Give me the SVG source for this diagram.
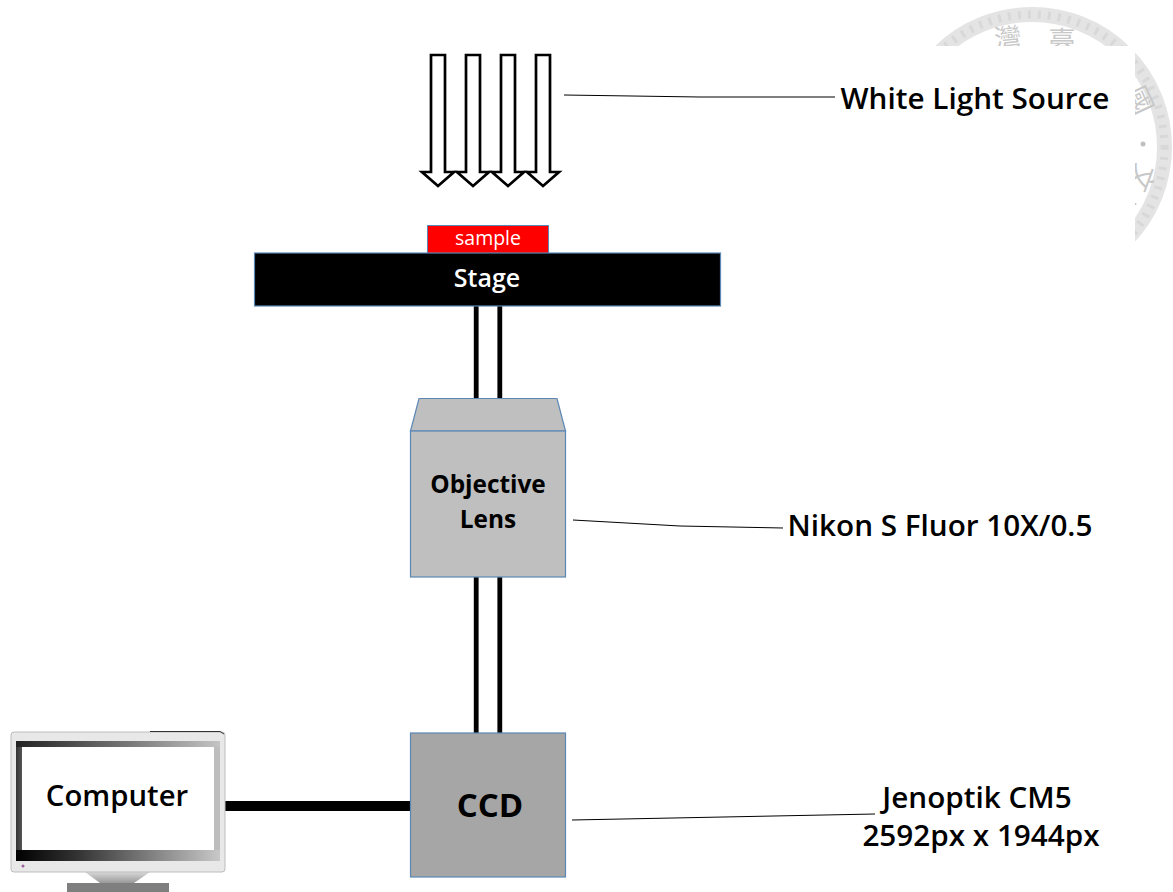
<svg xmlns="http://www.w3.org/2000/svg" width="1173" height="892" viewBox="0 0 1173 892">
<style>
text{font-family:"Open Sans","Noto Sans CJK TC","Noto Sans",sans-serif;fill:#000}
.lbl{font-size:29.700px;font-weight:600;text-anchor:middle}
.arrow{fill:#fff;stroke:#000;stroke-width:2.700}
.lead{fill:none;stroke:#000;stroke-width:1}
.box{stroke:#5b87b5;stroke-width:1.200}
.tube{stroke:#000;stroke-width:4.800;fill:none}
.seal{font-size:27px;fill:#c8c8c8;text-anchor:middle}
</style>
<defs>
<linearGradient id="bezTop" x1="0" x2="1" y1="0" y2="0"><stop offset="0" stop-color="#222"/><stop offset=".55" stop-color="#777"/><stop offset="1" stop-color="#c4c4c4"/></linearGradient>
<linearGradient id="bezBot" x1="0" x2="1" y1="0" y2="0"><stop offset="0" stop-color="#000"/><stop offset=".3" stop-color="#333"/><stop offset="1" stop-color="#c8c8c8"/></linearGradient>
<linearGradient id="bezSide" x1="0" x2="1" y1="0" y2="0"><stop offset="0" stop-color="#333"/><stop offset="1" stop-color="#555"/></linearGradient>
<linearGradient id="neck" x1="0" x2="0" y1="0" y2="1"><stop offset="0" stop-color="#d8d8d8"/><stop offset="1" stop-color="#999"/></linearGradient>
</defs>
<g id="watermark">
<circle cx="1032" cy="147" r="132.500" fill="none" stroke="#e4e4e4" stroke-width="15"/>
<circle cx="1032" cy="147" r="132.500" fill="none" stroke="#d8d8d8" stroke-width="8" stroke-dasharray="3 7"/>
<text class="seal" x="1008" y="48" transform="rotate(-6 1008 40)">灣</text>
<text class="seal" x="1062" y="51">臺</text>
<text class="seal" x="1140" y="110" transform="rotate(65 1140 100)">國</text>
<circle cx="1143" cy="144" r="2.500" fill="#c0c0c0"/>
<text class="seal" x="1142" y="188" transform="rotate(110 1142 178)">文</text>
<circle cx="1135.500" cy="204" r="1" fill="#c0c0c0"/>
<rect x="880" y="46" width="255" height="210" fill="#fff"/>
<rect x="880" y="243" width="293" height="60" fill="#fff"/>
</g>
<g id="connectors">
<path class="lead" d="M564 95L700 97L835 97"/>
<path class="lead" d="M573 520L680 526L783 528"/>
<path class="lead" d="M572 820L875 814"/>
<path class="tube" d="M476.200 306V398M499.800 306V398M476.200 577V733M499.800 577V733"/>
<path d="M223 806H411" stroke="#000" stroke-width="10" fill="none"/>
</g>
<g id="light-source">
<path class="arrow" d="M431 55H445V172H454L438 186L422 172H431Z"/>
<path class="arrow" d="M466 55H480V172H489L473 186L457 172H466Z"/>
<path class="arrow" d="M501 55H515V172H524L508 186L492 172H501Z"/>
<path class="arrow" d="M536 55H550V172H559L543 186L527 172H536Z"/>
<text class="lbl" x="975" y="109">White Light Source</text>
</g>
<g id="sample">
<rect x="427.500" y="225.500" width="121" height="28" fill="#ff0000" stroke="#5b87b5" stroke-width="1"/>
<text x="488" y="245" font-size="19.500" text-anchor="middle" style="fill:#fff">sample</text>
</g>
<g id="stage">
<rect class="box" x="254.500" y="253" width="466" height="53" fill="#000"/>
<text x="487" y="287" font-size="25" font-weight="600" text-anchor="middle" style="fill:#fff">Stage</text>
</g>
<g id="objective">
<path class="box" d="M419 398.500H557L565.500 431H410.500Z" fill="#bfbfbf"/>
<rect class="box" x="410.500" y="431" width="155" height="146" fill="#bfbfbf"/>
<text x="488" y="493" font-size="24.400" font-weight="700" text-anchor="middle">Objective</text>
<text x="488" y="528" font-size="24.400" font-weight="700" text-anchor="middle">Lens</text>
<text class="lbl" x="940" y="536">Nikon S Fluor 10X/0.5</text>
</g>
<g id="ccd">
<rect class="box" x="410.500" y="733" width="155" height="144" fill="#a6a6a6"/>
<text x="490" y="817" font-size="33" font-weight="700" text-anchor="middle">CCD</text>
<text class="lbl" x="977" y="808">Jenoptik CM5</text>
<text class="lbl" x="981" y="846">2592px x 1944px</text>
</g>
<g id="computer">
<path d="M85 872H150L134 883H100Z" fill="url(#neck)"/>
<rect x="67" y="883" width="102" height="9" fill="#7f7f7f"/>
<rect x="11" y="732" width="214" height="140" rx="3" fill="#e8e8e8" stroke="#bdbdbd"/>
<path d="M150 731.500H220L224 734" fill="none" stroke="#333" stroke-width="1"/>
<rect x="16" y="741" width="6" height="120" fill="url(#bezSide)"/>
<rect x="214" y="741" width="6" height="120" fill="#bdbdbd"/>
<rect x="16" y="741" width="204" height="6" fill="url(#bezTop)"/>
<rect x="16" y="850" width="204" height="11" fill="url(#bezBot)"/>
<rect x="22" y="747" width="192" height="103" fill="#fff"/>
<circle cx="23" cy="866" r="1.500" fill="#a060a0"/>
<text x="117" y="806" font-size="29.300" font-weight="600" text-anchor="middle">Computer</text>
</g>
</svg>
